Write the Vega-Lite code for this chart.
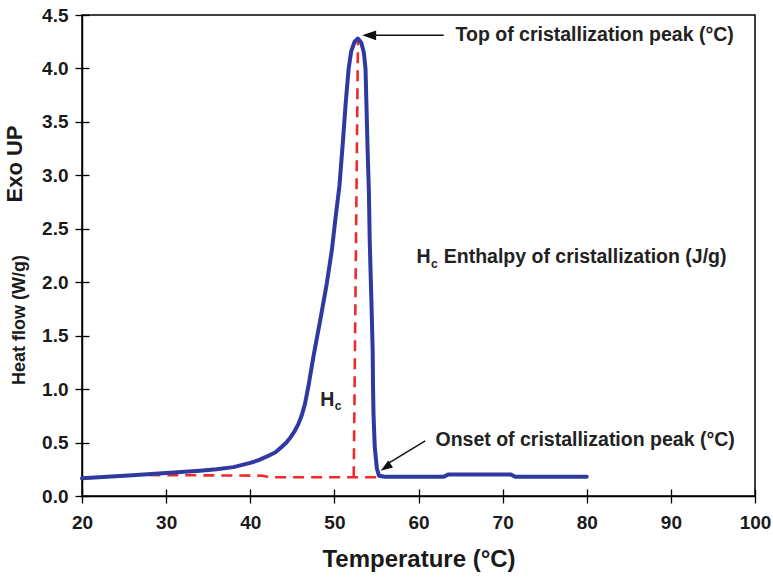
{
  "$schema": "https://vega.github.io/schema/vega-lite/v6.json",
  "width": 673,
  "height": 481,
  "autosize": {"type": "none"},
  "padding": {"left": 82, "top": 15, "right": 18, "bottom": 81},
  "background": "white",
  "config": {
    "view": {"stroke": "#000", "strokeWidth": 1.5},
    "font": "Liberation Sans"
  },
  "datasets": {
    "curve": [
      {"T": 20, "v": 0.165}, {"T": 23, "v": 0.18}, {"T": 26, "v": 0.195}, {"T": 30, "v": 0.215},
      {"T": 34, "v": 0.237}, {"T": 36, "v": 0.25}, {"T": 38, "v": 0.27}, {"T": 40, "v": 0.31},
      {"T": 41, "v": 0.335}, {"T": 42, "v": 0.37}, {"T": 43, "v": 0.41}, {"T": 43.6, "v": 0.45},
      {"T": 44.3, "v": 0.5}, {"T": 44.8, "v": 0.55}, {"T": 45.3, "v": 0.61}, {"T": 45.7, "v": 0.67},
      {"T": 46.1, "v": 0.75}, {"T": 46.5, "v": 0.86}, {"T": 46.9, "v": 1.02}, {"T": 47.5, "v": 1.3},
      {"T": 48.4, "v": 1.68}, {"T": 49.1, "v": 1.99}, {"T": 49.7, "v": 2.3}, {"T": 50.15, "v": 2.61},
      {"T": 50.6, "v": 2.9}, {"T": 51.0, "v": 3.3}, {"T": 51.35, "v": 3.68}, {"T": 51.7, "v": 4.0},
      {"T": 52.0, "v": 4.16}, {"T": 52.4, "v": 4.25}, {"T": 52.8, "v": 4.28}, {"T": 53.2, "v": 4.24},
      {"T": 53.5, "v": 4.15}, {"T": 53.7, "v": 4.0}, {"T": 53.8, "v": 3.7}, {"T": 53.95, "v": 3.24},
      {"T": 54.1, "v": 2.86}, {"T": 54.2, "v": 2.39}, {"T": 54.4, "v": 1.83}, {"T": 54.55, "v": 1.37},
      {"T": 54.6, "v": 1.0}, {"T": 54.65, "v": 0.77}, {"T": 54.8, "v": 0.46}, {"T": 55.05, "v": 0.26},
      {"T": 55.3, "v": 0.19}, {"T": 56, "v": 0.18}, {"T": 63, "v": 0.18}, {"T": 63.5, "v": 0.2},
      {"T": 71, "v": 0.2}, {"T": 71.5, "v": 0.18}, {"T": 80, "v": 0.18}
    ],
    "baseline": [
      {"seg": "h", "T": 28, "v": 0.196}, {"seg": "h", "T": 41.5, "v": 0.19},
      {"seg": "h", "T": 42.3, "v": 0.175}, {"seg": "h", "T": 55.2, "v": 0.175},
      {"seg": "vert", "T": 52.3, "v": 0.175}, {"seg": "vert", "T": 52.8, "v": 4.25}
    ],
    "arrows": [
      {"id": "top", "T": 63.0, "v": 4.31}, {"id": "top", "T": 54.6, "v": 4.31},
      {"id": "onset", "T": 60.8, "v": 0.515}, {"id": "onset", "T": 56.3, "v": 0.3}
    ],
    "heads": [
      {"id": "top", "T": 53.3, "v": 4.31},
      {"id": "onset", "T": 55.5, "v": 0.237}
    ],
    "notes": [
      {"kind": "main", "T": 64.4, "v": 4.31, "text": "Top of cristallization peak (°C)"},
      {"kind": "main", "T": 59.76, "v": 2.236, "text": "H"},
      {"kind": "sub", "T": 61.5, "v": 2.17, "text": "c"},
      {"kind": "main", "T": 63.0, "v": 2.236, "text": "Enthalpy of cristallization (J/g)"},
      {"kind": "main", "T": 48.33, "v": 0.898, "text": "H"},
      {"kind": "sub", "T": 50.05, "v": 0.84, "text": "c"},
      {"kind": "main", "T": 62.02, "v": 0.524, "text": "Onset of cristallization peak (°C)"},
      {"kind": "side", "T": 12.08, "v": 3.106, "text": "Exo UP"}
    ]
  },
  "encoding": {
    "x": {
      "field": "T", "type": "quantitative",
      "scale": {"domain": [20, 100], "nice": false, "zero": false},
      "axis": {
        "title": "Temperature (°C)",
        "values": [20, 30, 40, 50, 60, 70, 80, 90, 100],
        "tickSize": 7,
        "tickColor": "#000", "tickWidth": 1.3,
        "grid": true, "gridColor": "#000", "gridWidth": 1.3, "gridOpacity": 1,
        "gridDash": [0, 474, 7, 3000],
        "domainColor": "#000", "domainWidth": 1.5,
        "labelFont": "Liberation Sans", "labelFontSize": 19, "labelFontWeight": "bold", "labelColor": "#1a1a1a",
        "labelPadding": 10, "labelFlush": false, "labelOverlap": false,
        "titleFont": "Liberation Sans", "titleFontSize": 24, "titleFontWeight": "bold", "titleColor": "#1a1a1a",
        "titleY": 70, "titleBaseline": "alphabetic"
      }
    },
    "y": {
      "field": "v", "type": "quantitative",
      "scale": {"domain": [0, 4.5], "nice": false, "zero": false},
      "axis": {
        "title": "Heat flow (W/g)",
        "values": [0, 0.5, 1, 1.5, 2, 2.5, 3, 3.5, 4, 4.5],
        "format": ".1f",
        "tickSize": 7,
        "tickColor": "#000", "tickWidth": 1.3,
        "grid": true, "gridColor": "#000", "gridWidth": 1.3, "gridOpacity": 1,
        "gridDash": [7, 3000],
        "domainColor": "#000", "domainWidth": 1.5,
        "labelFont": "Liberation Sans", "labelFontSize": 19, "labelFontWeight": "bold", "labelColor": "#1a1a1a",
        "labelPadding": 7, "labelFlush": false, "labelOverlap": false,
        "titleFont": "Liberation Sans", "titleFontSize": 18, "titleFontWeight": "bold", "titleColor": "#1a1a1a",
        "titleAngle": 270, "titleX": -62.5, "titleY": 304.5, "titleBaseline": "middle", "titleAlign": "center"
      }
    }
  },
  "layer": [
    {
      "data": {"name": "baseline"},
      "mark": {"type": "line", "color": "#ee2a2a", "strokeWidth": 2.6, "strokeDash": [11, 7]},
      "encoding": {"detail": {"field": "seg"}}
    },
    {
      "data": {"name": "curve"},
      "mark": {"type": "line", "color": "#2f3aa0", "strokeWidth": 4, "strokeJoin": "round", "strokeCap": "round"},
      "encoding": {}
    },
    {
      "data": {"name": "arrows"},
      "mark": {"type": "line", "color": "#111", "strokeWidth": 1.4},
      "encoding": {"detail": {"field": "id"}}
    },
    {
      "data": {"name": "heads"},
      "transform": [{"filter": "datum.id === 'top'"}],
      "mark": {"type": "point", "shape": "M0,0L2,-0.7L2,0.7Z", "size": 196, "filled": true, "color": "#111", "opacity": 1, "angle": 0},
      "encoding": {}
    },
    {
      "data": {"name": "heads"},
      "transform": [{"filter": "datum.id === 'onset'"}],
      "mark": {"type": "point", "shape": "M0,0L2,-0.7L2,0.7Z", "size": 144, "filled": true, "color": "#111", "opacity": 1, "angle": 326.6},
      "encoding": {}
    },
    {
      "data": {"name": "notes"},
      "transform": [{"filter": "datum.kind === 'main'"}],
      "mark": {"type": "text", "align": "left", "baseline": "middle", "font": "Liberation Sans", "fontSize": 19.5, "fontWeight": "bold", "color": "#222"},
      "encoding": {"text": {"field": "text"}}
    },
    {
      "data": {"name": "notes"},
      "transform": [{"filter": "datum.kind === 'sub'"}],
      "mark": {"type": "text", "align": "left", "baseline": "middle", "font": "Liberation Sans", "fontSize": 12, "fontWeight": "bold", "color": "#222"},
      "encoding": {"text": {"field": "text"}}
    },
    {
      "data": {"name": "notes"},
      "transform": [{"filter": "datum.kind === 'side'"}],
      "mark": {"type": "text", "align": "center", "baseline": "middle", "angle": 270, "font": "Liberation Sans", "fontSize": 22, "fontWeight": "bold", "color": "#1a1a1a"},
      "encoding": {"text": {"field": "text"}}
    }
  ]
}
